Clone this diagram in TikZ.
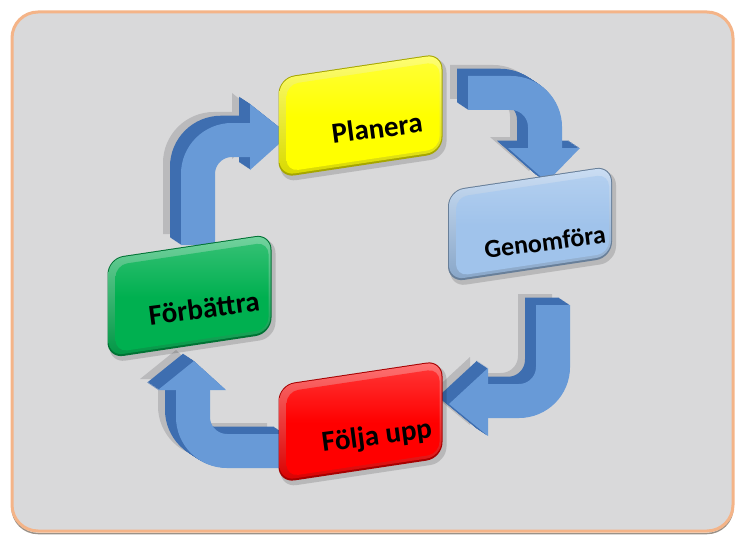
\documentclass[tikz,border=0pt]{standalone}
\usepackage{fontspec}
\setmainfont{Carlito}
\definecolor{framec}{RGB}{244,180,136}
\definecolor{bgc}{RGB}{217,217,218}
\definecolor{arface}{RGB}{104,154,215}
\definecolor{arside}{RGB}{62,110,176}
\definecolor{arshadow}{RGB}{186,186,188}
\definecolor{cyel}{RGB}{255,255,0}
\definecolor{cblu}{RGB}{160,195,235}
\definecolor{cgrn}{RGB}{0,176,80}
\definecolor{cred}{RGB}{255,0,0}
\newcommand{\bentarrow}[2]{%
  \begin{scope}[shift={(-18,-11)}]
    \path[draw=arshadow, line width=34pt, rounded corners=34pt] #1;
    \path[fill=arshadow] #2;
  \end{scope}
  \foreach \k in {11,10,...,1}{
    \begin{scope}[shift={(-\k,-0.66*\k)}]
      \path[draw=arside, line width=34pt, rounded corners=34pt] #1;
      \path[fill=arside] #2;
    \end{scope}}
  \path[draw=arface, line width=34pt, rounded corners=34pt] #1;
  \path[fill=arface] #2;
}
\newcommand{\bevbox}[4]{%
  \begin{scope}[shift={(#1,#2)}, yslant=0.15]
    \fill[black, opacity=0.15, rounded corners=16pt] (-80,-#4+4) rectangle (86,#4+5);
    \fill[#3!65!black, rounded corners=16pt] (-82,-#4) rectangle (82,#4);
    \shade[top color=#3!55!white, bottom color=#3!85!black, rounded corners=15pt] (-81,-#4+1) rectangle (81,#4-2);
    \shade[top color=#3!80!white, bottom color=#3, middle color=#3, rounded corners=12pt] (-74,-#4+8) rectangle (79,#4-5);
  \end{scope}}
\tikzset{lbl/.style={font=\bfseries\fontsize{29}{32}\selectfont, text=black, inner sep=0pt, rotate=7.5}}
\begin{document}
\begin{tikzpicture}[x=1pt,y=-1pt]
\useasboundingbox (0,0) rectangle (737,535);
\fill[white] (0,0) rectangle (737,535);
% frame
\draw[line width=1.5pt, black!70!brown, opacity=0.5, rounded corners=26pt] (12,14) rectangle (733,533.5);
\draw[line width=3pt, draw=framec, fill=bgc, rounded corners=26pt] (12,12) rectangle (733,531);
% arrows
\bentarrow{(468,93) -- (545,93) -- (545,150)}{(508,148) -- (580,148) -- (547,182) -- cycle}
\bentarrow{(553,305) -- (553,401) -- (486,401)}{(488,368) -- (488,436) -- (449,404) -- cycle}
\bentarrow{(285,451) -- (193,451) -- (193,388)}{(158,390) -- (226,390) -- (194,361) -- cycle}
\bentarrow{(198,245) -- (198,140) -- (252,140)}{(250,104) -- (250,170) -- (289,135) -- cycle}
% boxes
\bevbox{360.5}{115.5}{cyel}{50}
\bevbox{530}{224}{cblu}{46}
\bevbox{189.5}{296}{cgrn}{50}
\bevbox{360.5}{421.5}{cred}{49}
% labels
\node[lbl] (pl) at (377,128) {Planera};
\node[lbl, font=\bfseries\fontsize{26}{29}\selectfont] (ge) at (545,242) {Genomföra};
\node[lbl] (fb) at (204,308) {Förbättra};
\node[lbl] (fu) at (377,437) {Följa upp};
\end{tikzpicture}
\end{document}
